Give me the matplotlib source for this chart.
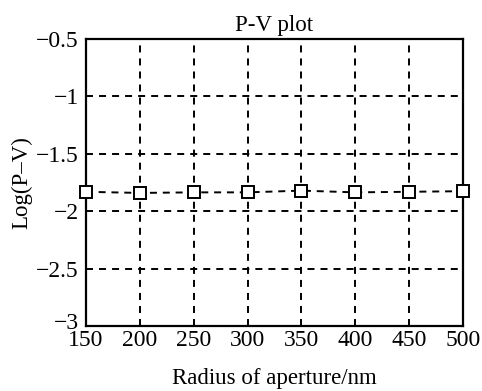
import matplotlib.pyplot as plt
from matplotlib.transforms import ScaledTranslation

radio = [150, 200, 250, 300, 350, 400, 450, 500]
log_pv = [-1.83, -1.84, -1.835, -1.835, -1.82, -1.835, -1.83, -1.825]
xticks = [150, 200, 250, 300, 350, 400, 450, 500]
yticks = [-3, -2.5, -2, -1.5, -1, -0.5]
ylabels = ['\u22123', '\u22122.5', '\u22122', '\u22121.5', '\u22121', '\u22120.5']

plt.rcParams['font.family'] = ['Liberation Serif', 'DejaVu Serif']

fig = plt.figure(figsize=(4.82, 3.91), dpi=100)
ax = fig.add_axes([0.178, 0.166, 0.783, 0.734])

ax.plot(radio, log_pv, linestyle=(0, (3.6, 3.0)), color='black', linewidth=1.4,
        marker='s', markersize=8, markerfacecolor='white', markeredgecolor='black',
        markeredgewidth=1.4, clip_on=False, zorder=3)

ax.set_xlim(150, 500)
ax.set_ylim(-3, -0.5)
ax.set_xticks(xticks)
ax.set_yticks(yticks)
ax.set_yticklabels(ylabels)
ax.tick_params(direction='in', length=0, labelsize=17)
ax.tick_params(axis='x', pad=3)
ax.tick_params(axis='y', pad=5)
ax.grid(True, color='black', linestyle=(0, (3.6, 3.1)), linewidth=1.4)
for s in ax.spines.values():
    s.set_linewidth(1.6)

# el -3 queda un poco más arriba, como en la figura original
lab = ax.get_yticklabels()[0]
lab.set_transform(lab.get_transform() + ScaledTranslation(0, 5 / 100, fig.dpi_scale_trans))

ax.set_title('P-V plot', fontsize=16.5, pad=6)
ax.set_xlabel('Radius of aperture/nm', fontsize=16.5, labelpad=12)
ax.set_ylabel('Log(P\u2013V)', fontsize=16.5, labelpad=3)

fig.savefig('out.png', dpi=100)
